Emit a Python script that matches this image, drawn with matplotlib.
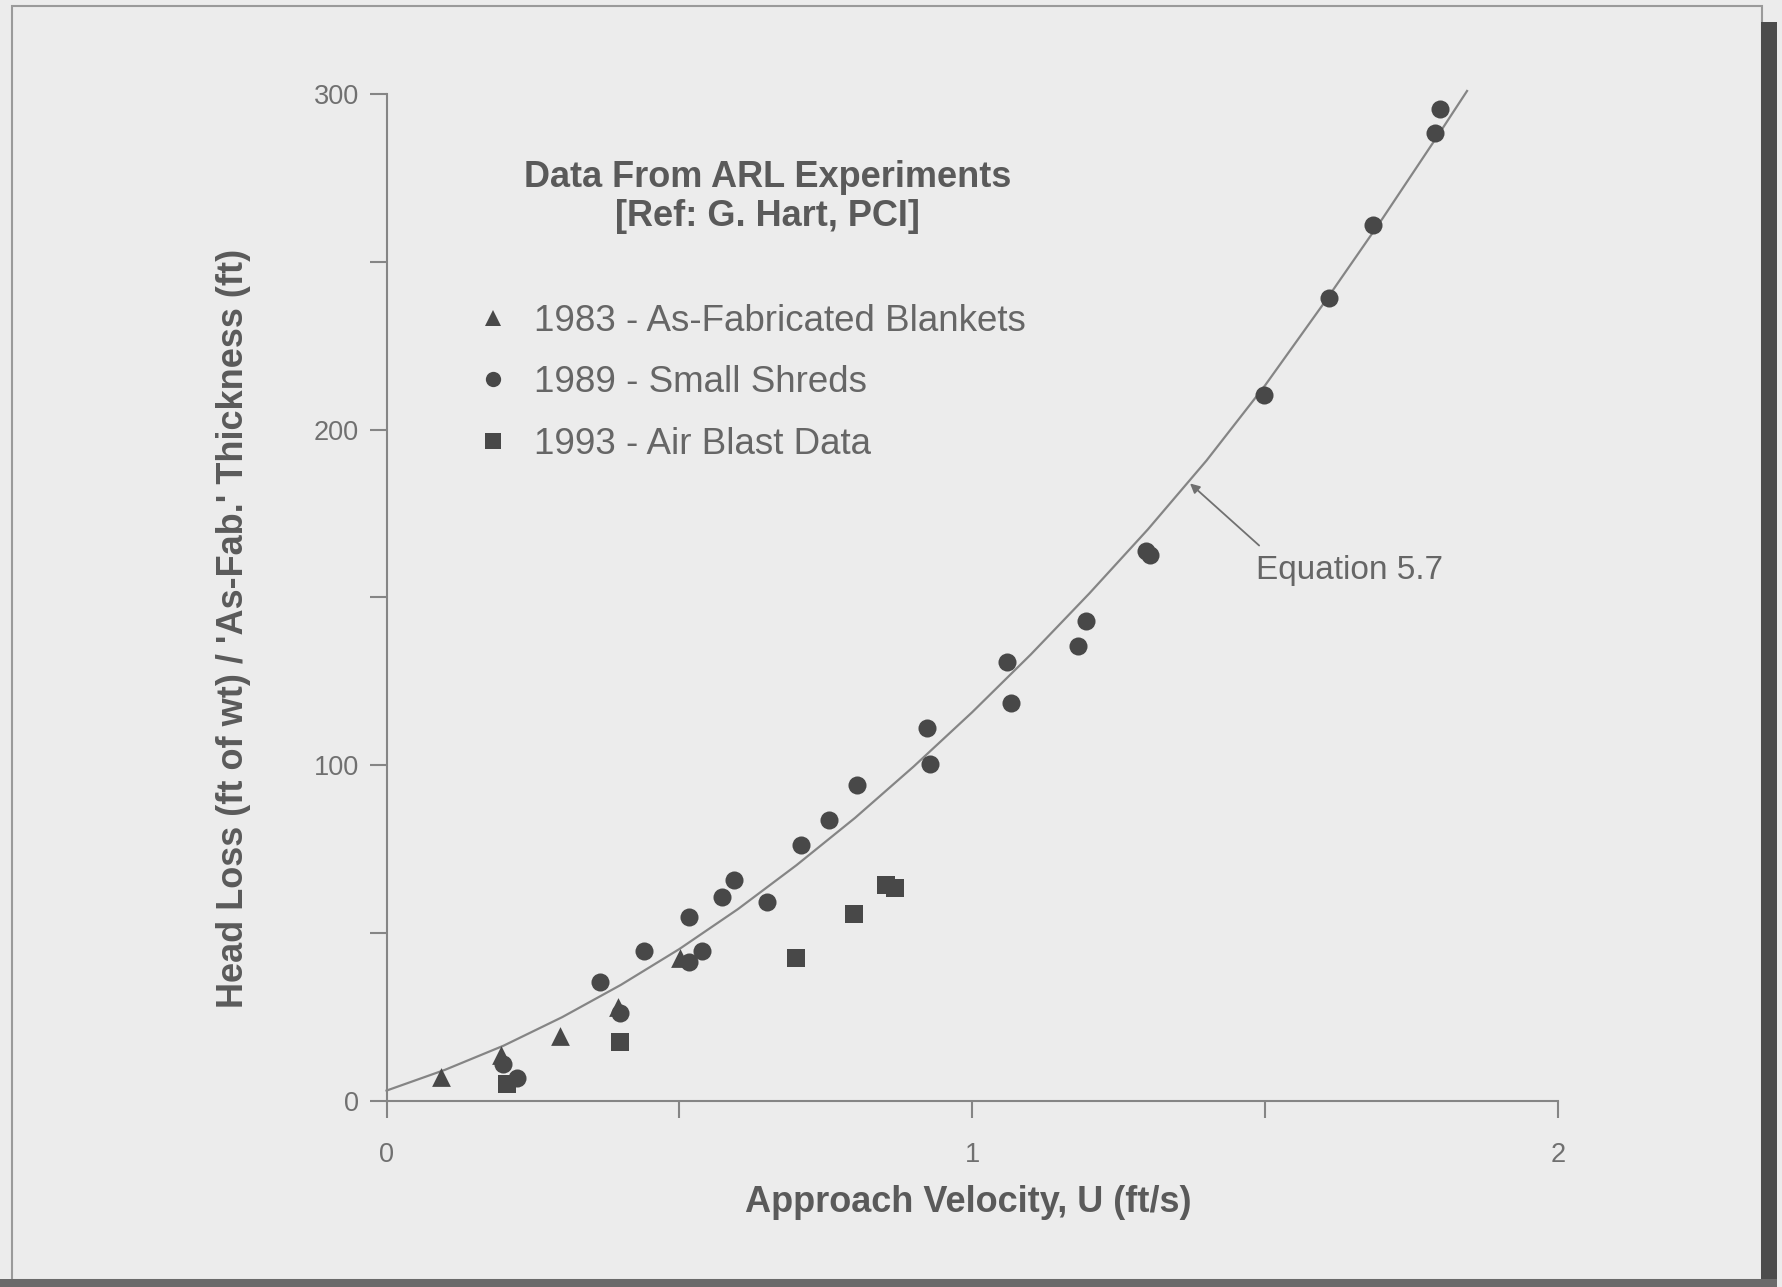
import matplotlib.pyplot as plt
from matplotlib.lines import Line2D
from matplotlib.patches import Rectangle

# 1983 - as-fabricated blankets
tri_u = [0.093, 0.196, 0.297, 0.396, 0.501]
tri_h = [7.1, 13.5, 19.3, 27.8, 42.5]

# 1989 - small shreds
circ_u = [0.198, 0.223, 0.365, 0.398, 0.439, 0.517, 0.538, 0.517, 0.573, 0.594,
          0.650, 0.707, 0.755, 0.804, 0.922, 0.928, 1.060, 1.066, 1.181, 1.194,
          1.296, 1.303, 1.499, 1.610, 1.685, 1.790, 1.798]
circ_h = [11.0, 6.8, 35.3, 26.1, 44.7, 41.4, 44.7, 54.6, 60.7, 65.8,
          59.3, 76.3, 83.7, 94.2, 111.2, 100.3, 130.8, 118.6, 135.6, 143.1,
          163.8, 162.6, 210.5, 239.3, 261.0, 288.5, 295.6]

# 1993 - air blast data
sq_u = [0.206, 0.398, 0.699, 0.798, 0.852, 0.868]
sq_h = [5.1, 17.6, 42.4, 55.6, 64.4, 63.4]

# Equation 5.7 curve
eq_u = [0.0, 0.1, 0.2, 0.3, 0.4, 0.5, 0.6, 0.7, 0.8, 0.9, 1.0,
        1.1, 1.2, 1.3, 1.4, 1.5, 1.6, 1.7, 1.8, 1.845]
eq_h = [3.0, 9.2, 16.4, 24.9, 34.5, 45.2, 57.1, 70.2, 84.3, 99.6, 115.8,
        133.0, 151.2, 170.3, 190.8, 213.2, 237.6, 262.8, 289.0, 301.0]

legend_labels = ['1983 - As-Fabricated Blankets', '1989 - Small Shreds', '1993 - Air Blast Data']

BG = '#ececec'
MARK = '#484848'
LINE = '#858585'
TXT = '#5a5a5a'
SANS = ['Liberation Sans', 'DejaVu Sans']

fig = plt.figure(figsize=(17.83, 12.87), dpi=100, facecolor=BG)

# page border
fig.add_artist(Rectangle((12 / 1783, 1 - 1280 / 1287), 1750 / 1783, 1274 / 1287,
                         transform=fig.transFigure, fill=False, edgecolor='#9a9a9a', lw=1.5))
fig.add_artist(Rectangle((1761 / 1783, 0), 16 / 1783, 1 - 22 / 1287,
                         transform=fig.transFigure, facecolor='#4c4c4c', edgecolor='none'))
fig.add_artist(Rectangle((0, 0), 1777 / 1783, 8 / 1287,
                         transform=fig.transFigure, facecolor='#6a6a6a', edgecolor='none'))

ax = fig.add_axes([0.2168, 0.1448, 0.6569, 0.7819])
ax.patch.set_visible(False)
ax.set_xlim(0, 2)
ax.set_ylim(0, 300)

for side in ['top', 'right']:
    ax.spines[side].set_visible(False)
for side in ['left', 'bottom']:
    ax.spines[side].set_color(LINE)
    ax.spines[side].set_linewidth(1.5)

ax.set_xticks([0, 1, 2])
ax.set_xticks([0.5, 1.5], minor=True)
ax.set_yticks([0, 100, 200, 300])
ax.set_yticks([50, 150, 250], minor=True)
ax.tick_params(which='both', direction='out', length=12, width=1.5, color=LINE,
               labelsize=19.5, labelcolor='#707070')
ax.tick_params(axis='x', pad=18)
ax.tick_params(axis='y', pad=8)
for lab in ax.get_xticklabels() + ax.get_yticklabels():
    lab.set_fontfamily(SANS)

ax.plot(eq_u, eq_h, color=LINE, lw=1.6, clip_on=False, zorder=2)

ax.scatter(sq_u, sq_h, marker='s', s=12.5 ** 2, color=MARK, lw=0, zorder=3)
ax.scatter(circ_u, circ_h, marker='o', s=13 ** 2, color=MARK, lw=0, zorder=3)
ax.scatter(tri_u, tri_h, marker='^', s=13.5 ** 2, color=MARK, lw=0, zorder=4)

ax.text(0.65, 275.3, 'Data From ARL Experiments', ha='center', va='center',
        fontsize=26, fontweight='bold', color=TXT, family=SANS)
ax.text(0.65, 263.6, '[Ref: G. Hart, PCI]', ha='center', va='center',
        fontsize=26, fontweight='bold', color=TXT, family=SANS)

handles = [Line2D([], [], ls='none', marker=m, markersize=11, color=MARK, mew=0)
           for m in ['^', 'o', 's']]
leg = ax.legend(handles, legend_labels, loc='upper left', bbox_to_anchor=(0.078, 0.792),
                frameon=False, borderpad=0, borderaxespad=0, handlelength=0.8,
                handletextpad=0.72, labelspacing=0.72, numpoints=1,
                prop={'family': SANS, 'size': 26.5})
for t in leg.get_texts():
    t.set_color('#666666')

ax.annotate('', xy=(1.372, 184.0), xytext=(1.49, 165.5),
            arrowprops=dict(arrowstyle='-|>', color='#707070', lw=1.3,
                            mutation_scale=14, shrinkA=0, shrinkB=0))
ax.text(1.485, 157.9, 'Equation 5.7', ha='left', va='center',
        fontsize=24, color='#666666', family=SANS)

ax.set_xlabel('Approach Velocity, U (ft/s)', fontsize=26, fontweight='bold',
              color=TXT, family=SANS, va='center')
ax.xaxis.set_label_coords(0.497, -0.1008)
ax.set_ylabel("Head Loss (ft of wt) / 'As-Fab.' Thickness (ft)", fontsize=26,
              fontweight='bold', color=TXT, family=SANS, va='center')
ax.yaxis.set_label_coords(-0.131, 0.469)

fig.savefig('out.png', dpi=100, facecolor=BG)
